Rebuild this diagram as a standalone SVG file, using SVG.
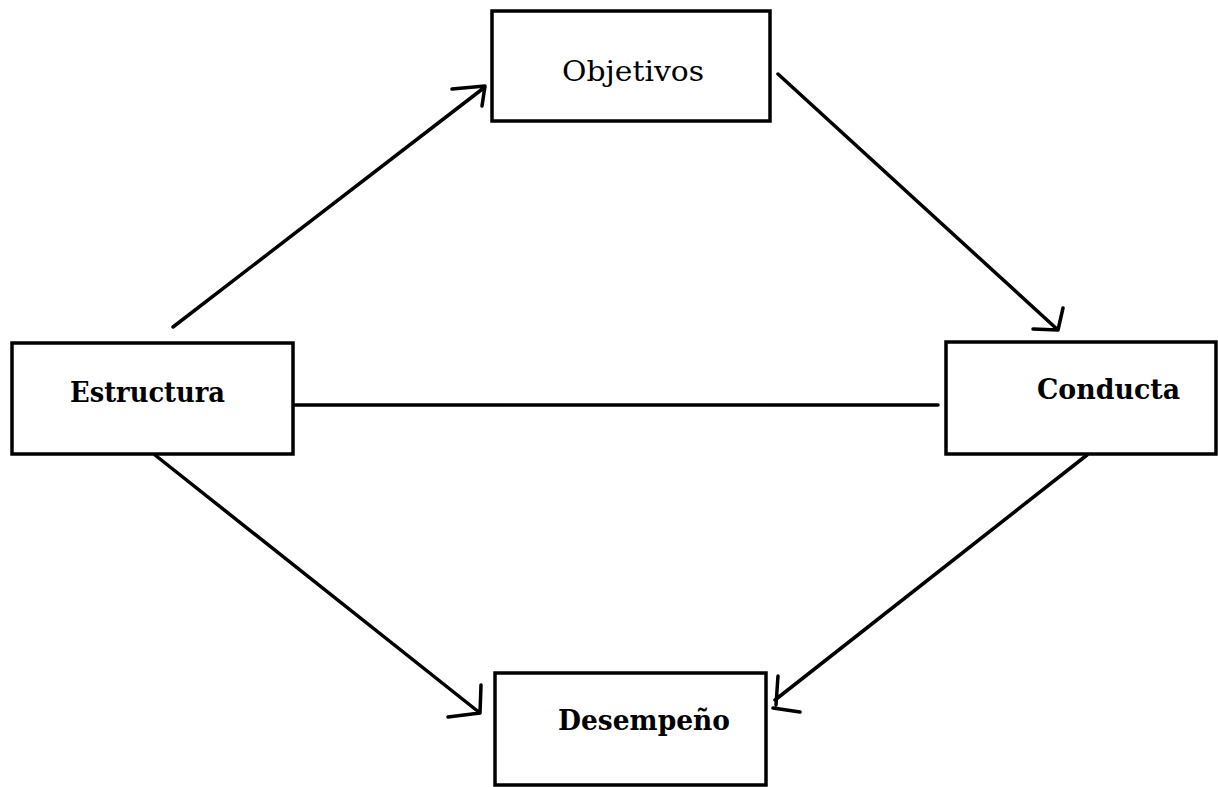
<svg xmlns="http://www.w3.org/2000/svg" width="1218" height="787" viewBox="0 0 1218 787">
<style>
.box{fill:#fff;stroke:#000;stroke-width:3.5}
.lbl{font-family:"DejaVu Serif","Liberation Serif",serif;font-size:27px;fill:#000;font-weight:bold}
.ln{stroke:#000;stroke-width:3.5;fill:none;stroke-linecap:round;stroke-linejoin:round}
</style>
<rect width="1218" height="787" fill="#fff"/>
<g id="objetivos"><rect class="box" x="492" y="11" width="278" height="110"/><text class="lbl" x="562" y="81" textLength="142" lengthAdjust="spacingAndGlyphs" style="font-weight:normal">Objetivos</text></g>
<g id="estructura"><rect class="box" x="12" y="343" width="281" height="111"/><text class="lbl" x="70" y="402" textLength="155" lengthAdjust="spacingAndGlyphs">Estructura</text></g>
<g id="conducta"><rect class="box" x="946" y="342" width="270" height="112"/><text class="lbl" x="1037" y="399" textLength="143" lengthAdjust="spacingAndGlyphs">Conducta</text></g>
<g id="desempeno"><rect class="box" x="495" y="673" width="271" height="112"/><text class="lbl" x="558" y="730" textLength="172" lengthAdjust="spacingAndGlyphs">Desempeño</text></g>
<g id="connectors">
<path class="ln" d="M173,327 L485,87 M452,89 L485,86 L482,106"/>
<path class="ln" d="M778,74 L1058,330 M1033,329 L1058,330 L1063,308"/>
<path class="ln" d="M295,405 L938,405"/>
<path class="ln" d="M155,455 L480,713 M448,717 L480,713 L481,685"/>
<path class="ln" d="M1087,455 L775,700 M778,676 L776,705 M773,708 L800,712"/>
</g>
</svg>
